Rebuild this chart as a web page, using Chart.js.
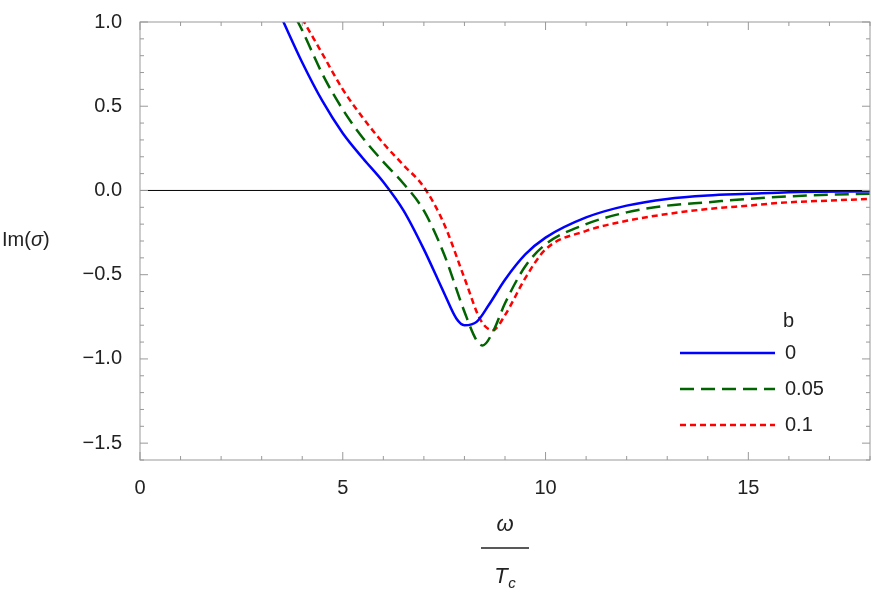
<!DOCTYPE html>
<html>
<head>
<meta charset="utf-8">
<script src="https://cdn.jsdelivr.net/npm/chart.js@4"></script>
<style>
  html, body { margin: 0; padding: 0; background: #fff; }
  #wrap { width: 872px; height: 594px; }
</style>
</head>
<body>
<div id="wrap"><canvas id="myChart"></canvas></div>
<script>
// curve b = 0
const xs0 = [3.5, 4, 4.5, 5, 5.5, 6, 6.5, 7, 7.5, 7.8, 8, 8.3, 8.6, 9, 9.5, 10, 11, 12, 13, 14, 15, 16, 18];
const ys0 = [1.02, 0.76, 0.53, 0.34, 0.19, 0.05, -0.12, -0.35, -0.61, -0.76, -0.80, -0.78, -0.68, -0.53, -0.38, -0.28, -0.16, -0.09, -0.05, -0.03, -0.02, -0.01, -0.005];
// curve b = 0.05
const xs1 = [3.85, 4, 4.5, 5, 5.5, 6, 6.5, 7, 7.5, 8, 8.3, 8.45, 8.7, 9, 9.5, 10, 11, 12, 13, 14, 15, 16, 17, 18];
const ys1 = [1.02, 0.95, 0.69, 0.48, 0.31, 0.17, 0.04, -0.12, -0.38, -0.72, -0.89, -0.92, -0.84, -0.67, -0.45, -0.32, -0.2, -0.13, -0.09, -0.07, -0.05, -0.035, -0.025, -0.02];
// curve b = 0.1
const xs2 = [4, 4.5, 5, 5.5, 6, 6.5, 7, 7.5, 8, 8.4, 8.7, 9, 9.5, 10, 11, 12, 13, 14, 15, 16, 17, 18];
const ys2 = [1.02, 0.81, 0.6, 0.43, 0.28, 0.15, 0.02, -0.2, -0.52, -0.77, -0.83, -0.74, -0.52, -0.35, -0.24, -0.18, -0.14, -0.11, -0.09, -0.07, -0.06, -0.05];

const labels = ['0', '0.05', '0.1'];
const xTicks = [0, 5, 10, 15];
const yTicks = [1.0, 0.5, 0.0, -0.5, -1.0, -1.5];

const pts = (xs, ys) => xs.map((x, i) => ({ x: x, y: ys[i] }));
const FONT = '"Liberation Sans", Arial, sans-serif';

// marco, marcas hacia dentro, ejes y leyenda
const framePlugin = {
  id: 'frame',
  afterDraw(chart) {
    const { ctx, chartArea: a, scales: { x, y } } = chart;
    ctx.save();
    // linea y = 0
    ctx.strokeStyle = '#000';
    ctx.lineWidth = 1;
    ctx.beginPath();
    ctx.moveTo(a.left, y.getPixelForValue(0));
    ctx.lineTo(a.right, y.getPixelForValue(0));
    ctx.stroke();
    // marco
    ctx.strokeStyle = '#999';
    ctx.strokeRect(a.left, a.top, a.right - a.left, a.bottom - a.top);
    // marcas
    ctx.beginPath();
    for (let v = 0; v <= 18; v++) {
      const px = x.getPixelForValue(v);
      const len = v % 5 === 0 ? 8 : 4;
      ctx.moveTo(px, a.bottom); ctx.lineTo(px, a.bottom - len);
      ctx.moveTo(px, a.top); ctx.lineTo(px, a.top + len);
    }
    for (let k = -16; k <= 10; k++) {
      const py = y.getPixelForValue(k / 10);
      const len = k % 5 === 0 ? 8 : 4;
      ctx.moveTo(a.left, py); ctx.lineTo(a.left + len, py);
      ctx.moveTo(a.right, py); ctx.lineTo(a.right - len, py);
    }
    ctx.stroke();
    // titulos de ejes
    ctx.fillStyle = '#222';
    ctx.font = '20px ' + FONT;
    ctx.textAlign = 'left';
    ctx.textBaseline = 'middle';
    ctx.fillText('Im(', 2, 240);
    const w1 = ctx.measureText('Im(').width;
    ctx.font = 'italic 20px ' + FONT;
    ctx.fillText('σ', 2 + w1, 240);
    const w2 = ctx.measureText('σ').width;
    ctx.font = '20px ' + FONT;
    ctx.fillText(')', 2 + w1 + w2, 240);
    const cx = (a.left + a.right) / 2;
    ctx.textAlign = 'center';
    ctx.font = 'italic 22px ' + FONT;
    ctx.fillText('ω', cx, 525);
    ctx.strokeStyle = '#222';
    ctx.lineWidth = 1.5;
    ctx.beginPath(); ctx.moveTo(cx - 24, 548); ctx.lineTo(cx + 24, 548); ctx.stroke();
    ctx.fillText('T', cx - 4, 577);
    ctx.font = 'italic 15px ' + FONT;
    ctx.fillText('c', cx + 7, 584);
    // leyenda
    ctx.font = '20px ' + FONT;
    ctx.textAlign = 'left';
    ctx.fillText('b', 783, 321);
    chart.data.datasets.forEach((ds, i) => {
      const ly = 353 + i * 36;
      ctx.strokeStyle = ds.borderColor;
      ctx.lineWidth = ds.borderWidth;
      ctx.setLineDash(ds.borderDash || []);
      ctx.beginPath(); ctx.moveTo(680, ly); ctx.lineTo(775, ly); ctx.stroke();
      ctx.setLineDash([]);
      ctx.fillStyle = '#222';
      ctx.fillText(ds.label, 785, ly);
    });
    ctx.restore();
  }
};

new Chart(document.getElementById('myChart').getContext('2d'), {
  type: 'line',
  data: {
    datasets: [
      { label: labels[0], data: pts(xs0, ys0), borderColor: '#0000ff', borderWidth: 2.5 },
      { label: labels[1], data: pts(xs1, ys1), borderColor: '#006400', borderWidth: 2.5, borderDash: [14, 7] },
      { label: labels[2], data: pts(xs2, ys2), borderColor: '#ff0000', borderWidth: 2.5, borderDash: [6, 4] }
    ]
  },
  options: {
    responsive: true,
    maintainAspectRatio: false,
    animation: false,
    layout: { padding: { top: 0, right: 2 } },
    elements: { point: { radius: 0 }, line: { tension: 0.4, cubicInterpolationMode: 'monotone' } },
    plugins: { legend: { display: false }, tooltip: { enabled: false } },
    scales: {
      x: {
        type: 'linear', min: 0, max: 18,
        grid: { display: false }, border: { display: false },
        afterBuildTicks: s => { s.ticks = xTicks.map(v => ({ value: v })); },
        afterFit: s => { s.height = 134; },
        ticks: { color: '#222', font: { family: FONT, size: 20 }, padding: 8 }
      },
      y: {
        min: -1.6, max: 1.0,
        grid: { display: false }, border: { display: false },
        afterBuildTicks: s => { s.ticks = yTicks.map(v => ({ value: v })); },
        afterFit: s => { s.width = 140; },
        ticks: { color: '#222', font: { family: FONT, size: 20 }, padding: 10,
                 callback: v => v.toFixed(1).replace('-', '\u2212') }
      }
    }
  },
  plugins: [framePlugin]
});
</script>
</body>
</html>
